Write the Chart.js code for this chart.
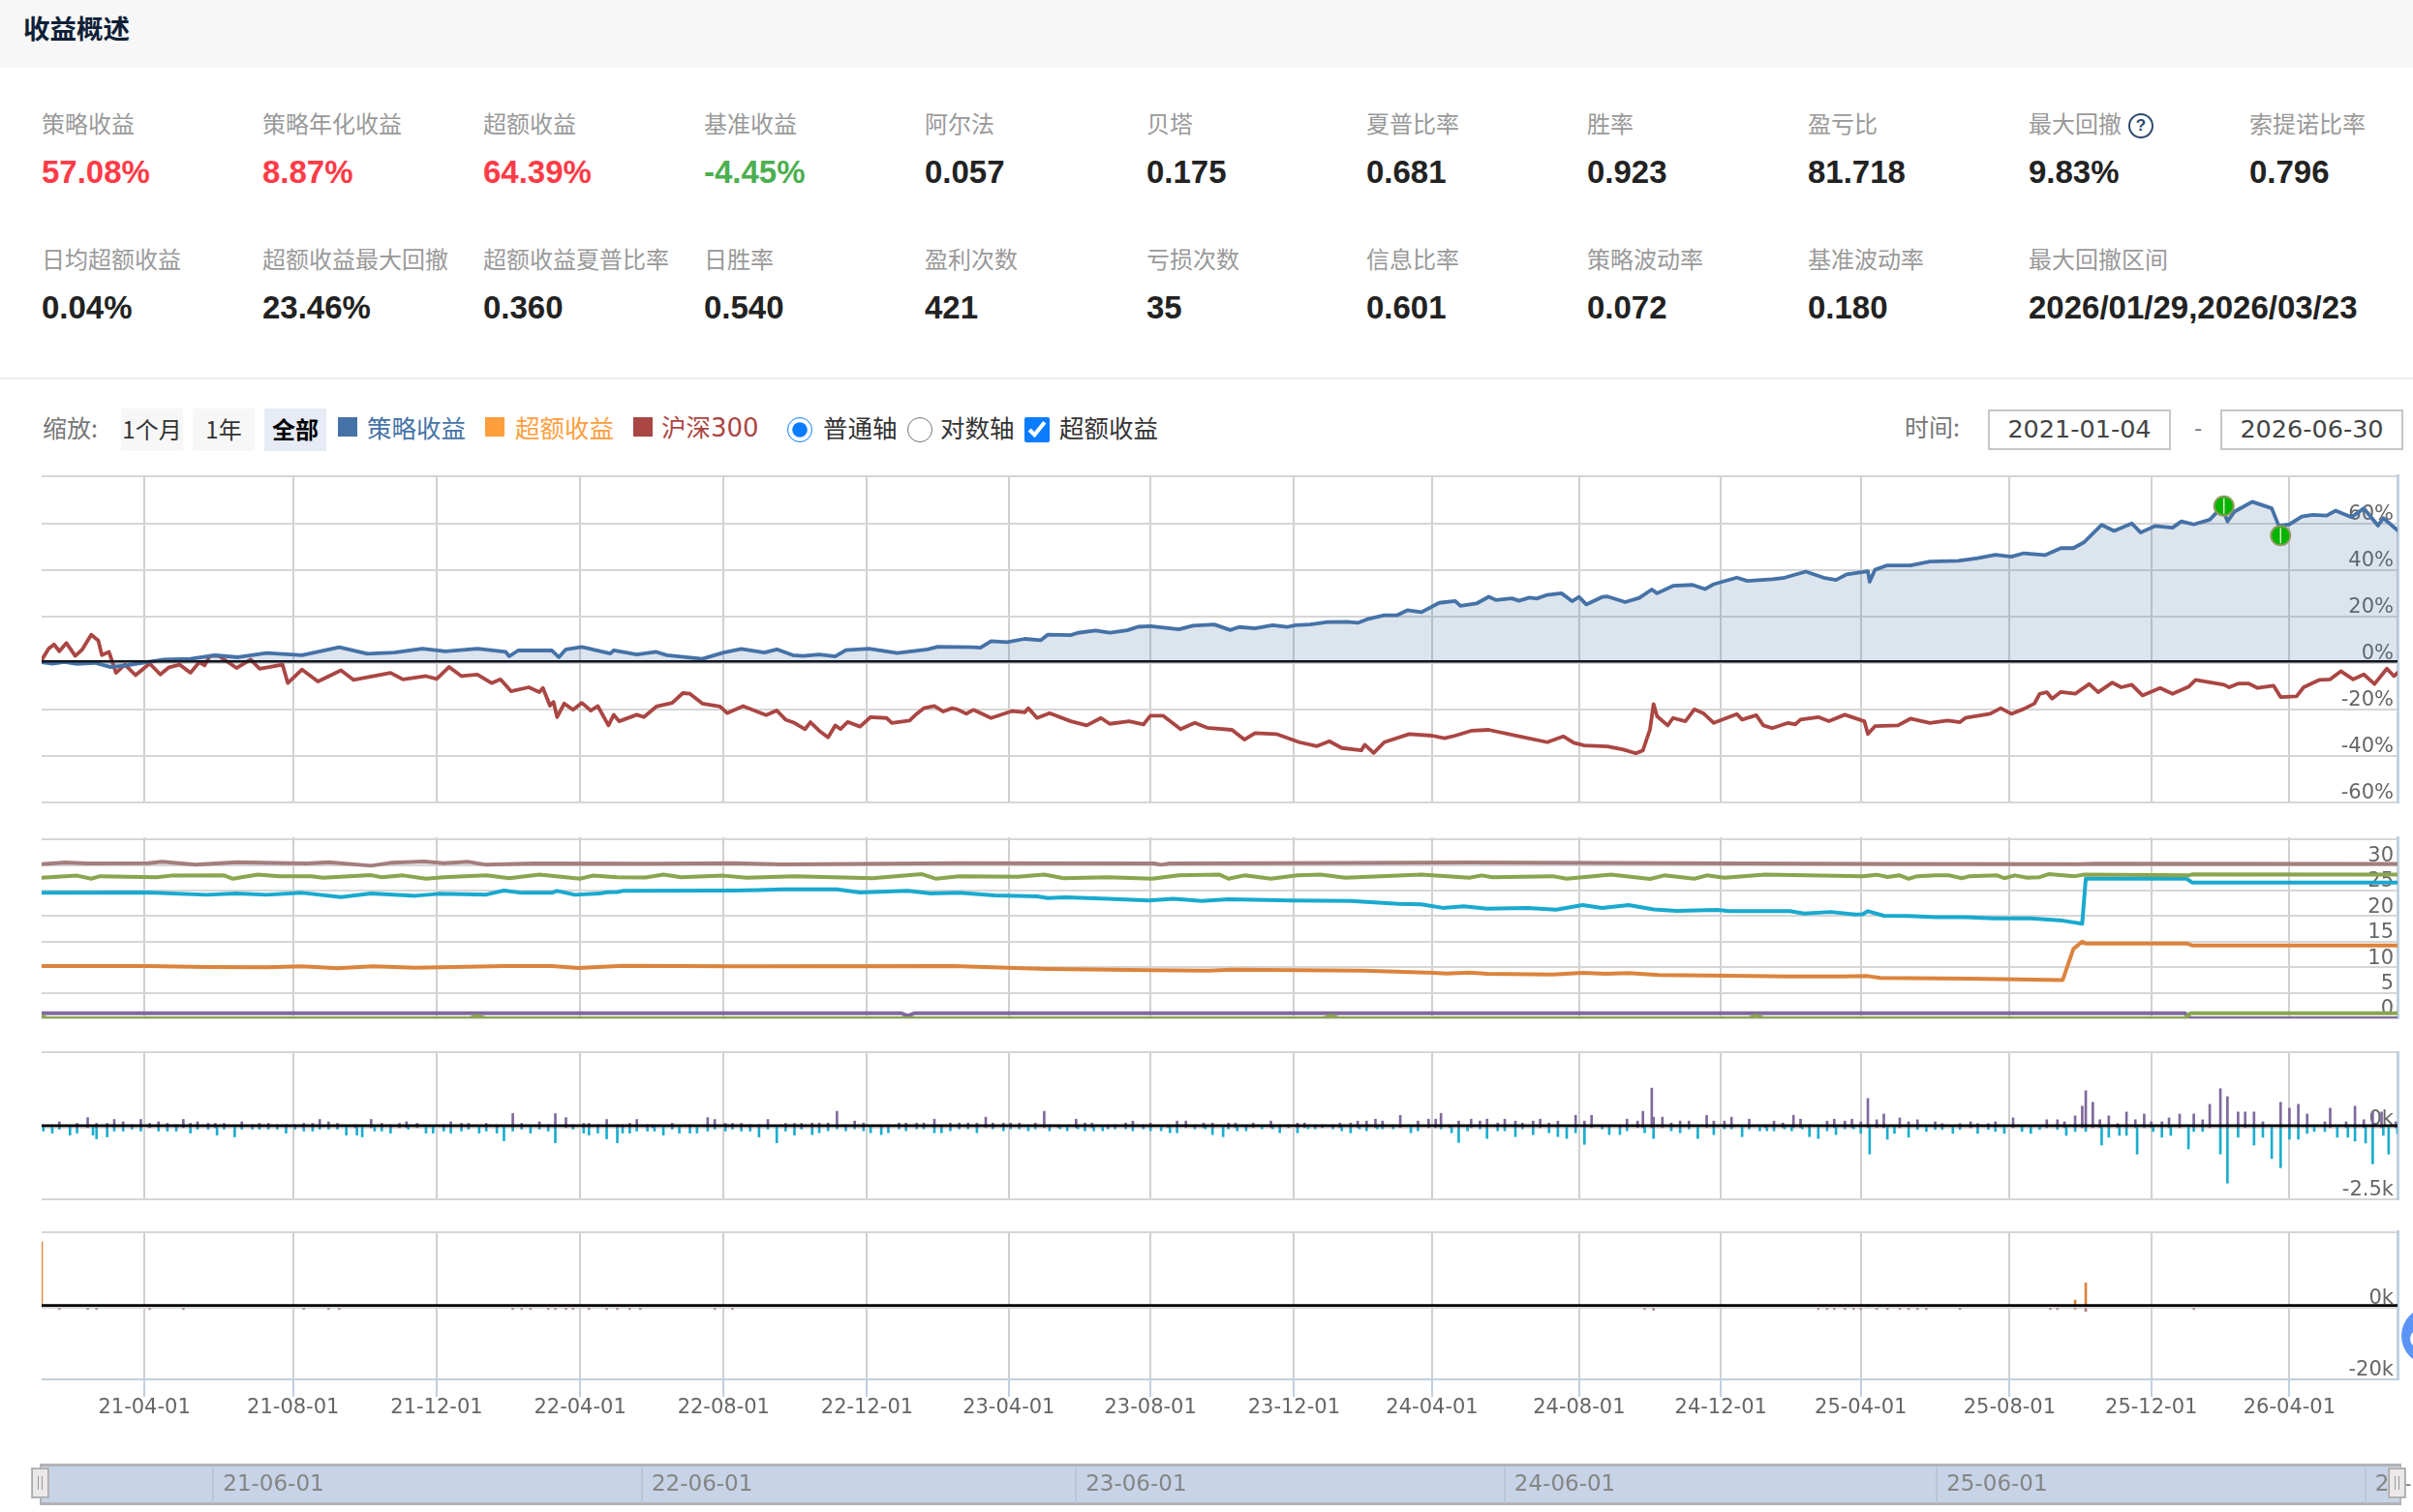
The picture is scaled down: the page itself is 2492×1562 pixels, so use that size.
<!DOCTYPE html>
<html lang="zh-CN">
<head>
<meta charset="utf-8">
<title>收益概述</title>
<script src="https://cdn.jsdelivr.net/npm/chart.js@4"></script>
<style>
html,body{margin:0;padding:0;background:#fff;width:2492px;height:1562px;overflow:hidden;font-family:"Noto Sans CJK SC",sans-serif}
.a{position:absolute;white-space:nowrap;line-height:1}
canvas{position:absolute;display:block}
.lab{font-size:24px;color:#999;transform:translateY(-50%)}
.val{font-family:"Liberation Sans",sans-serif;font-weight:bold;font-size:33px;color:#222;transform:translateY(-50%)}
.btn{top:422px;height:44px;background:#f7f7f7;font-size:24px;color:#333;display:flex;align-items:center;justify-content:center;padding-bottom:2px;box-sizing:border-box}
.sq{top:431px;width:20px;height:20px}
.leg{top:441px;font-size:25.5px;transform:translateY(-50%)}
.inp{top:423px;height:38px;width:185px;border:2px solid #c6c6c6;font-family:"DejaVu Sans",sans-serif;font-size:25.5px;color:#444;display:flex;align-items:center;justify-content:center}
.hd{top:1517px;width:15px;height:28px;background:#ebe8e8;border:1px solid #a8a8a8;outline:1px solid #bbb}
.hd i{position:absolute;top:7px;height:14px;width:1px;background:#999}
</style>
</head>
<body>
<div class="a" style="left:0;top:0;width:2492px;height:70px;background:#f7f7f7"></div>
<div class="a" style="left:24px;top:15px;font-size:27.5px;font-weight:700;color:#0e2036">收益概述</div>
<div class="a" style="left:0;top:390px;width:2492px;height:2px;background:#e9edf1"></div>
<div id="stats"></div>
<div class="a" style="left:2198px;top:117px;width:22px;height:22px;border:2px solid #2e4a6e;border-radius:50%;font:bold 17px 'Liberation Sans';color:#2e4a6e;display:flex;align-items:center;justify-content:center">?</div>

<div class="a" style="left:44px;top:441px;font-size:25px;color:#777;transform:translateY(-50%)">缩放:</div>
<div class="a btn" style="left:125px;width:64px">1个月</div>
<div class="a btn" style="left:199px;width:64px">1年</div>
<div class="a btn" style="left:273px;width:64px;background:#e6ebf5;color:#000;font-weight:700">全部</div>
<div class="a sq" style="left:349px;background:#4572A7"></div>
<div class="a leg" style="left:379px;color:#4572A7">策略收益</div>
<div class="a sq" style="left:501px;background:#FF9E3D"></div>
<div class="a leg" style="left:532px;color:#FF9E3D">超额收益</div>
<div class="a sq" style="left:654px;background:#AA4643"></div>
<div class="a leg" style="left:683px;color:#AA4643">沪深<span style="font-family:'DejaVu Sans';font-size:26px">300</span></div>
<input class="a" type="radio" name="ax" checked style="left:813px;top:431px;width:26px;height:26px;margin:0;accent-color:#0a7cff">
<div class="a leg" style="left:850px;color:#333">普通轴</div>
<input class="a" type="radio" name="ax" style="left:937px;top:431px;width:26px;height:26px;margin:0">
<div class="a leg" style="left:971px;color:#333">对数轴</div>
<input class="a" type="checkbox" checked style="left:1058px;top:431px;width:26px;height:26px;margin:0;accent-color:#0a7cff">
<div class="a leg" style="left:1094px;color:#333">超额收益</div>
<div class="a" style="left:1967px;top:440px;font-size:25px;color:#777;transform:translateY(-50%)">时间:</div>
<div class="a inp" style="left:2053px">2021-01-04</div>
<div class="a" style="left:2266px;top:441px;font-size:24px;color:#777;transform:translateY(-50%)">-</div>
<div class="a inp" style="left:2293px">2026-06-30</div>

<canvas id="main" style="left:33px;top:485px" width="2457" height="350"></canvas>
<canvas id="pos" style="left:33px;top:859px" width="2457" height="199"></canvas>
<canvas id="flow" style="left:33px;top:1081px" width="2457" height="164"></canvas>
<canvas id="cash" style="left:33px;top:1267px" width="2457" height="195"></canvas>

<div class="a" style="left:41px;top:1512px;width:2435px;height:37px;background:#c7d3e6;border:solid #b2b2b8;border-width:3px 2px 3px 2px"></div>
<canvas id="nav" style="left:33px;top:1510px" width="2457" height="46"></canvas>
<div class="a hd" style="left:33px"><i style="left:5px"></i><i style="left:9px"></i></div>
<div class="a hd" style="left:2467px"><i style="left:5px"></i><i style="left:9px"></i></div>
<div class="a" style="left:2480px;top:1350px;width:60px;height:60px;border-radius:50%;background:#5b94f7"></div>
<div class="a" style="left:2489px;top:1373px;width:20px;height:20px;border-radius:50%;background:#fff"></div>

<script>
const statLabels1=["策略收益","策略年化收益","超额收益","基准收益","阿尔法","贝塔","夏普比率","胜率","盈亏比","最大回撤","索提诺比率"];
const statValues1=["57.08%","8.87%","64.39%","-4.45%","0.057","0.175","0.681","0.923","81.718","9.83%","0.796"];
const statColors1=["#ff3b47","#ff3b47","#ff3b47","#4caf50"];
const statLabels2=["日均超额收益","超额收益最大回撤","超额收益夏普比率","日胜率","盈利次数","亏损次数","信息比率","策略波动率","基准波动率","最大回撤区间"];
const statValues2=["0.04%","23.46%","0.360","0.540","421","35","0.601","0.072","0.180","2026/01/29,2026/03/23"];
const statColumns=[43,271,499,727,955,1184,1411,1639,1867,2095,2323];

const xTickDays=[58,142,223,304,385,466,546,626,707,785,868,948,1027,1111,1191,1269];
const xTickLabels=["21-04-01","21-08-01","21-12-01","22-04-01","22-08-01","22-12-01","23-04-01","23-08-01","23-12-01","24-04-01","24-08-01","24-12-01","25-04-01","25-08-01","25-12-01","26-04-01"];
const navTickDays=[97,339,584,826,1070,1312];
const navTickLabels=["21-06-01","22-06-01","23-06-01","24-06-01","25-06-01","26-06-01"];

const strategyReturn=[[0,.3],[6,-.4],[13,.4],[20,-.5],[30,0],[39,-1.8],[49,-1],[59,.3],[69,1.4],[84,1.7],[98,3.3],[111,2.4],[127,4.2],[147,3.3],[168,6.7],[184,3.9],[199,4.4],[215,6.1],[228,4.9],[246,6.1],[262,4.7],[264,2.8],[269,5.3],[288,5.4],[292,2.4],[296,5.8],[305,6.8],[321,4],[323,5.4],[336,3.6],[347,4.7],[353,3.3],[373,1.7],[385,4.4],[395,6],[408,4.4],[415,5.8],[424,3.3],
[430,3],[439,3.6],[448,2.8],[454,5.5],[467,6.1],[483,4.2],[500,5.8],[506,6.9],[526,6.7],[530,6.5],[536,9.3],[545,8.9],[555,10.3],[564,9.7],[568,12.1],[581,11.9],[585,12.9],[595,13.9],[603,13],[613,14],[619,15.5],[626,15.8],[642,14.4],[650,16],[662,16.5],[671,14.1],[676,15.4],[685,14.8],[695,16.2],[703,15.4],[708,16.2],[716,16.5],[726,17.5],[737,17.6],[743,17.2],[749,18.9],[758,20.4],[765,20.4],[771,22.6],[779,21.8],[789,25.8],[798,26.6],[801,24.5],[810,25.5],[817,28.4],[821,27],[830,27.7],[834,26.7],[840,28],[844,27.6],[850,29.2],[858,29.9],[864,26.5],[868,28.3],[872,25.1],[881,28.3],[884,28.5],
[894,26.1],[902,27.9],[909,31.5],[912,29.9],[921,33.1],[932,33.5],[939,31.7],[944,33.8],[957,36.6],[963,35.2],[977,35.9],[984,36.6],[996,39.2],[1006,36.6],[1013,35.6],[1019,38],[1031,39.4],[1032,34.9],[1035,40],[1042,41.9],[1055,41.9],[1066,43.5],[1082,43.8],[1093,45],[1103,46.4],[1112,45.6],[1119,47.1],[1131,46.3],[1140,49.3],[1147,49.3],[1153,51.8],[1163,59.3],[1170,56.7],[1180,59.9],[1185,56],[1193,58.8],[1203,58.1],[1208,60.8],[1215,59.5],[1224,61.5],[1231,67.1],[1234,60.8],[1238,65],[1248,69.2],[1259,66.4],[1263,58.8],[1269,59.5],[1276,62.9],[1282,63.6],[1290,63.3],[1295,65.4],[1304,62.6],[1311,66.4],[1319,59],[1322,62.2],[1330,57]];

const benchmarkReturn=[[0,1.2],[4,6.1],[7,7.9],[10,5],[14,8.5],[19,3],[23,5.8],[28,12.1],[32,9.6],[34,3.3],[38,4.7],[42,-4.3],[47,-.8],[53,-5.3],[61,-.3],[67,-5],[72,-1.9],[78,-.8],[84,-4.3],[89,.3],[92,-1.1],[95,3],[100,3],[110,-2.2],[118,1.4],[123,-2.5],[136,-.8],[139,-8.7],[147,-2.9],[156,-8],[169,-3.2],[176,-7.3],[197,-4.3],[204,-7.1],[217,-5.7],[223,-6.9],[230,-1.8],[237,-5.7],[246,-5],[254,-8.7],[259,-7.1],[265,-12.2],[275,-10.5],[281,-12.6],[283,-10.8],[287,-18.4],[289,-16.8],[291,-23.3],[295,-17.5],[300,-20.2],[305,-17.2],[310,-20.5],[314,-18.6],[320,-26.9],[323,-22.3],[326,-25.1],[336,-22.3],[340,-23.3],[347,-18.8],[356,-17.2],[362,-13],[366,-13.3],[373,-17.5],[383,-18.8],[387,-21.6],[396,-18.6],[409,-22.5],[415,-20.5],[420,-24.4],[425,-25.8],[431,-28.5],
[434,-25.5],[439,-29.2],[444,-32],[448,-26.9],[451,-28.5],[455,-25.4],[462,-27.4],[468,-23.3],[477,-23.7],[480,-25.8],[490,-24.8],[494,-21.9],[498,-19.5],[504,-18.6],[509,-20.9],[514,-19.5],[517,-20],[522,-21.9],[526,-20.2],[536,-23.7],[548,-20.7],[555,-21.3],[557,-19.5],[562,-23.7],[569,-21.6],[581,-25.1],[590,-26.9],[598,-23.7],[603,-26.2],[614,-25.1],[622,-26.5],[626,-22.7],[633,-22.7],[643,-28.5],[651,-25.8],[658,-27.9],[672,-28.8],[679,-33],[685,-30.2],[697,-30.6],[710,-34.1],[720,-35.8],[727,-33.7],[734,-36.6],[745,-37.6],[747,-35.2],[752,-38.7],[758,-34.1],[772,-30.6],[785,-31.3],[792,-32.4],[798,-31.3],[807,-29.2],[817,-28.8],[834,-31.6],[850,-34.1],[859,-31.6],[865,-34.4],[871,-35.5],[884,-35.9],
[893,-37.3],[900,-38.9],[904,-37.6],[908,-28.6],[910,-17.7],[912,-23],[918,-26.9],[921,-23.7],[928,-25.1],[933,-20],[938,-21.6],[944,-25.8],[957,-22],[960,-24.4],[968,-22.5],[972,-26.9],[977,-28.1],[986,-25.8],[990,-26.5],[993,-24.4],[1003,-23.3],[1009,-25.1],[1018,-22.3],[1029,-25.1],[1031,-30.6],[1035,-27.2],[1048,-26.9],[1055,-24],[1066,-25.8],[1076,-24.8],[1083,-25.5],[1086,-23.7],[1100,-21.9],[1106,-19.5],[1112,-21.9],[1119,-19.8],[1125,-17.5],[1128,-13.3],[1132,-12.6],[1135,-15.4],[1140,-12.5],[1148,-13.3],[1156,-9.1],[1161,-12.6],[1169,-8.5],[1174,-10.5],[1180,-9.4],[1186,-14],[1196,-10.8],[1203,-13.3],[1212,-10.3],[1216,-7.3],[1232,-9.4],[1235,-10.5],[1240,-8.9],[1246,-8.9],[1251,-10.8],[1260,-9.8],[1264,-14.7],[1273,-14.4],[1277,-10.5],[1286,-7.3],[1292,-7.1],[1298,-3.6],[1305,-7.1],[1311,-5],[1317,-9.1],[1324,-2.5],[1328,-5.7],[1330,-4.3]];

const drawdownFlags=[[1232,67.4],[1264,54.7]];
const zeroLineMain=[[0,.6],[1330,.6]];

const posBrown=[[0,30.16],[13,30.47],[26,30.28],[60,30.35],[68,30.6],[87,30.03],[110,30.54],[140,30.35],[150,30.28],[162,30.54],[186,29.84],[197,30.41],[216,30.66],[227,30.35],[241,30.6],[251,30.03],[278,30.28],[345,30.22],[391,30.35],[418,30.09],[515,30.35],[628,30.28],[632,30.03],[637,30.28],[692,30.35],[806,30.47],[1040,30.2],[1150,30.15],[1160,30.25],[1330,30.2]];
const posGreen=[[0,27.5],[20,27.9],[28,27.3],[33,27.8],[65,27.6],[73,27.9],[103,27.95],[108,27.3],[122,28.1],[134,27.8],[152,27.8],[159,27.5],[186,28],[192,27.6],[204,27.95],[217,27.3],[227,27.6],[251,27.95],[264,27.4],[281,28.1],[304,27.3],[311,27.9],[325,27.6],[341,27.55],[351,28.1],[361,27.6],[385,27.9],[398,27.5],[425,27.8],[469,27.4],[497,28.2],[505,27.3],[518,27.8],[551,27.7],[566,28.1],[577,27.4],[602,27.6],[627,27.3],[642,27.95],[665,28.1],[670,27.3],[679,27.95],[694,27.3],[709,27.95],[722,28.1],[736,27.5],[779,28.1],[806,27.5],[813,27.95],[819,27.6],[853,27.8],[861,27.3],[886,28.1],[908,27.25],[916,27.95],[933,27.3],[940,27.95],[950,27.5],[973,28.1],[1028,27.76],[1036,28.08],[1042,27.63],[1049,27.95],[1054,27.3],[1059,27.8],[1069,27.95],[1077,27.95],[1084,27.4],[1088,27.76],[1104,27.95],[1108,27.4],[1114,27.95],[1121,27.5],[1128,27.6],[1133,28.2],[1148,27.8],[1153,28.1],[1212,27.95],[1214,28.14],[1330,28.1]];
const posTeal=[[0,24.54],[60,24.6],[93,24.16],[110,24.4],[127,24.16],[147,24.54],[169,23.7],[186,24.4],[211,23.97],[224,24.35],[251,24.2],[261,24.98],[271,24.54],[288,24.54],[291,24.92],[301,24.16],[315,24.4],[319,24.67],[325,24.7],[328,24.92],[391,24.98],[405,25.1],[418,25.24],[449,25.24],[462,24.6],[489,24.92],[502,24.4],[518,24.54],[538,24.04],[562,23.85],[568,23.53],[578,23.66],[602,23.4],[625,23.03],[639,23.4],[655,22.97],[670,23.28],[705,23.03],[739,22.97],[766,22.4],[779,22.3],[791,21.6],[803,21.9],[816,21.45],[839,21.6],[855,21.26],[870,22.15],[881,21.6],[896,22.15],[910,21.3],[923,21],[946,21.2],[953,20.95],[987,20.95],[995,20.5],[1010,20.8],[1024,20.3],[1028,20.35],[1031,20.95],[1040,20.06],[1054,20],[1069,19.8],[1086,19.8],[1102,19.56],[1123,19.56],[1141,19.1],[1152,18.5],[1154,27.3],[1211,27.3],[1214,26.56],[1330,26.56]];
const posOrange=[[0,10.22],[60,10.22],[93,10.03],[127,9.97],[147,10.16],[167,9.78],[187,10.16],[211,9.9],[261,10.22],[288,10.22],[303,9.84],[328,10.28],[391,10.16],[515,10.22],[545,9.9],[568,9.65],[625,9.4],[659,9.34],[672,9.53],[746,9.34],[786,8.9],[793,8.77],[806,8.96],[816,8.7],[853,8.58],[870,8.9],[883,8.7],[896,8.83],[913,8.45],[953,8.33],[987,8.2],[1016,8.2],[1031,8.26],[1038,7.89],[1088,7.76],[1141,7.5],[1147,13.56],[1152,15],[1154,14.64],[1211,14.64],[1214,14.26],[1330,14.26]];
const posPurple=[[0,1],[485,1],[489,.5],[493,1],[1210,1],[1213,0],[1330,0]];
const posLowGreen=[[0,.4],[3,0],[242,0],[246,.5],[250,0],[724,0],[728,.5],[732,0],[964,0],[968,.5],[972,0],[1210,0],[1213,1],[1330,1]];

const flowBuy=[[10,135],[20,80],[26,280],[31,80],[37,80],[41,215],[46,135],[51,30],[56,215],[61,80],[66,135],[71,80],[76,30],[80,215],[84,80],[88,135],[94,80],[98,80],[103,80],[113,135],[119,30],[123,80],[128,80],[133,30],[138,30],[143,30],[148,80],[153,80],[157,215],[162,135],[167,80],[177,30],[186,215],[192,80],[197,30],[202,80],[206,135],[212,80],[227,30],[231,135],[237,80],[241,80],[251,80],[257,30],[266,420],[271,80],[281,135],[286,30],[290,420],[296,280],[300,30],[306,80],[309,80],[314,30],[319,215],[325,30],[328,30],[332,80],[336,215],[342,30],[345,30],[356,80],[366,30],[376,280],[380,215],[386,80],[390,80],[395,80],[400,30],[405,30],[410,215],[420,80],[425,80],[429,80],
[435,90],[439,90],[444,90],[449,500],[454,25],[459,160],[464,90],[474,25],[478,25],[484,90],[488,90],[494,90],[498,90],[504,225],[508,25],[513,90],[518,90],[523,90],[528,90],[533,295],[537,90],[543,90],[547,90],[552,90],[561,90],[566,500],[569,25],[574,25],[584,225],[589,90],[593,90],[602,25],[606,25],[612,90],[616,160],[622,25],[626,90],[636,25],[641,160],[646,160],[651,25],[656,90],[661,90],[670,90],[674,90],[680,25],[684,90],[694,160],[699,25],[704,25],[709,90],[713,90],[719,25],[723,25],[729,25],[733,90],[739,90],[743,160],[748,160],[753,225],
[757,160],[763,25],[767,360],[777,160],[783,225],[787,225],[790,430],[795,25],[800,160],[807,225],[812,160],[816,225],[822,90],[826,225],[832,160],[836,90],[842,160],[846,225],[851,90],[856,160],[866,360],[871,160],[875,360],[881,25],[885,25],[891,25],[895,225],[901,160],[904,500],[909,1310],[910,295],[915,295],[920,90],[925,160],[930,160],[940,360],[944,160],[950,160],[954,295],[964,225],[973,25],[978,160],[983,90],[989,360],[993,225],[998,25],[1008,160],[1012,225],[1018,160],[1022,225],
[1027,135],[1031,950],[1036,205],[1040,405],[1049,270],[1054,135],[1059,205],[1069,135],[1073,70],[1083,70],[1089,135],[1093,70],[1099,70],[1103,135],[1113,270],[1132,205],[1138,205],[1142,135],[1148,340],[1152,680],[1154,1220],[1158,815],[1162,205],[1167,340],[1172,70],[1177,475],[1182,205],[1187,405],[1191,135],[1197,135],[1201,270],[1207,405],[1215,405],[1220,205],[1224,745],[1230,1290],[1234,1015],[1240,475],[1244,475],[1249,475],[1254,135],[1264,815],[1269,610],[1274,745],[1279,405],[1289,135],[1292,610],[1301,135],[1306,680],[1311,205],[1316,475],[1321,475],[1329,135]];
const flowSell=[[1,-190],[6,-260],[10,-125],[16,-330],[20,-260],[26,-60],[29,-330],[31,-460],[37,-395],[41,-190],[46,-190],[51,-125],[56,-190],[61,-60],[66,-190],[71,-190],[76,-190],[84,-260],[88,-125],[94,-125],[99,-330],[103,-125],[109,-395],[113,-125],[119,-125],[123,-125],[128,-125],[133,-125],[138,-260],[143,-125],[148,-190],[153,-190],[157,-125],[162,-125],[167,-125],[172,-330],[178,-330],[181,-395],[188,-190],[192,-190],[197,-260],[202,-60],[207,-125],[212,-60],[217,-260],[221,-260],[227,-190],[231,-260],[237,-190],[241,-125],[247,-260],[251,-190],[257,-260],[261,-530],[266,-190],[271,-125],[276,-260],[281,-125],[286,-190],[290,-600],[296,-60],[300,-125],[306,-260],[309,-330],[314,-260],[319,-460],[325,-600],[328,-260],[332,-260],[336,-190],[342,-190],[346,-190],[351,-330],[356,-125],[360,-260],[366,-260],[370,-260],[376,-190],[380,-125],[386,-190],[390,-125],[395,-190],[400,-190],[405,-395],[410,-125],[415,-600],[420,-190],[425,-330],[429,-125],
[435,-315],[439,-250],[444,-180],[449,-115],[454,-180],[459,-115],[464,-180],[468,-250],[474,-315],[478,-250],[484,-115],[488,-180],[494,-115],[498,-115],[504,-250],[508,-250],[513,-180],[518,-115],[523,-115],[528,-250],[533,-45],[537,-115],[543,-180],[547,-115],[552,-115],[557,-180],[561,-115],[569,-180],[575,-115],[579,-180],[585,-115],[589,-180],[594,-180],[599,-180],[602,-115],[606,-115],[612,-115],[616,-180],[622,-115],[626,-180],[632,-180],[637,-250],[641,-250],[651,-115],[657,-115],[661,-315],[667,-385],[670,-115],[675,-180],[680,-180],[689,-115],[695,-115],[699,-250],[709,-250],[715,-115],[719,-115],[729,-115],[734,-180],[739,-250],[744,-115],[748,-180],
[754,-115],[757,-115],[763,-115],[773,-250],[777,-180],[787,-65],[790,-115],[796,-250],[800,-590],[805,-180],[812,-115],[816,-450],[822,-180],[826,-180],[832,-385],[836,-115],[842,-315],[851,-250],[856,-385],[861,-450],[866,-250],[871,-655],[881,-115],[885,-315],[891,-315],[895,-180],[905,-250],[910,-450],[920,-180],[925,-250],[930,-115],[935,-450],[944,-315],[950,-115],[954,-115],[960,-385],[964,-115],[970,-180],[974,-180],[978,-180],[984,-115],[988,-180],[994,-115],[998,-385],[1003,-450],[1008,-180],[1013,-315],[1018,-115],[1023,-115],
[1027,-270],[1032,-995],[1042,-475],[1046,-270],[1054,-405],[1059,-135],[1064,-205],[1069,-135],[1073,-135],[1079,-270],[1083,-135],[1089,-70],[1093,-270],[1099,-135],[1103,-205],[1108,-270],[1118,-205],[1123,-270],[1128,-135],[1132,-70],[1138,-135],[1143,-340],[1148,-205],[1154,-205],[1163,-680],[1167,-405],[1173,-340],[1177,-340],[1183,-995],[1192,-205],[1197,-405],[1202,-340],[1212,-815],[1215,-205],[1220,-205],[1230,-995],[1234,-2010],[1240,-405],[1249,-680],[1254,-405],[1259,-1150],[1264,-1470],[1269,-475],[1274,-475],[1279,-270],[1283,-205],[1289,-205],[1296,-405],[1302,-405],[1306,-540],[1312,-610],[1316,-1335],[1322,-340],[1325,-995],[1330,-270]];
const zeroLineFlow=[[0,0],[1330,0]];
const flowTickValues=[-2576,-78,2566];
const flowTickLabels=["-2.5k","0k",""];

const cashIn=[[0,18400],[1031,900],[1148,2100],[1154,6900]];
const cashOut=[[10,-500],[26,-500],[31,-500],[61,-500],[80,-500],[148,-500],[162,-500],[168,-500],[266,-500],[271,-500],[276,-500],[286,-500],[290,-500],[296,-500],[300,-500],[309,-500],[319,-500],[325,-500],[332,-500],[338,-500],[380,-500],[390,-500],[905,-500],[910,-700],[1003,-500],[1008,-500],[1012,-500],[1018,-500],[1023,-500],[1027,-500],[1036,-500],[1042,-500],[1049,-500],[1054,-500],[1059,-500],[1064,-500],[1083,-500],[1134,-500],[1138,-500],[1148,-400],[1154,-1000],[1215,-500]];
const zeroLineCash=[[0,600],[1330,600]];

const statsEl=document.getElementById('stats');
function addStat(label,value,color,i,yL,yV){
  statsEl.insertAdjacentHTML('beforeend',
   `<div class="a lab" style="left:${statColumns[i]}px;top:${yL}px">${label}</div>`+
   `<div class="a val" style="left:${statColumns[i]}px;top:${yV}px;color:${color||'#222'}">${value}</div>`);
}
statLabels1.forEach((l,i)=>addStat(l,statValues1[i],statColors1[i],i,127,177));
statLabels2.forEach((l,i)=>addStat(l,statValues2[i],null,i,267,317));

const pts=a=>a.map(p=>({x:p[0],y:p[1]}));
const GRID='#d6d6d6', VGRID='#d0d0d0', AXIS='#c0d0e0';
const tickFont={family:'"DejaVu Sans",sans-serif',size:21};
const noPad=s=>{s.paddingLeft=s.paddingRight=s.paddingTop=s.paddingBottom=0;};

function line(data,color,width,extra){
  return Object.assign({type:'line',data:pts(data),borderColor:color,borderWidth:width,pointRadius:0,tension:0,
    borderJoinStyle:'round',borderCapStyle:'round',fill:false},extra||{});
}
function bars(data,color,extra){
  return Object.assign({type:'bar',data:pts(data),backgroundColor:color,barThickness:2,grouped:false},extra||{});
}
function pane(id,pad,datasets,yMin,yMax,yTicks,yLabel,opts){
  opts=opts||{};
  return new Chart(document.getElementById(id),{
    data:{datasets},
    options:{
      responsive:false,animation:false,devicePixelRatio:1,
      layout:{autoPadding:false,padding:{left:10,right:14,top:pad.top,bottom:pad.bottom}},
      plugins:{legend:{display:false},tooltip:{enabled:false}},
      events:[],
      scales:{
        x:{type:'linear',min:0,max:1330,offset:false,
          afterBuildTicks(s){s.ticks=xTickDays.map(value=>({value}));},
          afterFit(s){s.height=opts.xHeight||0;noPad(s);},
          border:{display:false},
          grid:{offset:false,color:VGRID,lineWidth:2,drawTicks:!!opts.xHeight,tickLength:18,tickColor:AXIS,tickWidth:2},
          ticks:{display:!!opts.xHeight,autoSkip:false,maxRotation:0,minRotation:0,padding:-1,color:'#666',font:tickFont,
            callback:(v,i)=>xTickLabels[i]}
        },
        y:{type:'linear',position:'right',min:yMin,max:yMax,
          afterBuildTicks(s){s.ticks=yTicks.map(value=>({value}));},
          afterFit(s){s.width=0;noPad(s);},
          border:{display:true,color:AXIS,width:3},
          grid:{color:c=>(opts.axisBottom&&c.tick&&c.tick.value===yMin)?AXIS:GRID,lineWidth:2,drawTicks:false},
          ticks:{mirror:true,padding:-4,labelOffset:-9,color:'#666',font:tickFont,autoSkip:false,callback:yLabel}
        }
      }
    }
  });
}

pane('main',{top:6,bottom:6},[
  line(zeroLineMain,'#10151f',2.6,{order:0,borderCapStyle:'butt'}),
  {type:'line',data:pts(drawdownFlags),showLine:false,pointStyle:'line',pointRotation:90,pointRadius:8,pointBorderColor:'#dfe8c8',pointBorderWidth:1.5,order:1},
  {type:'line',data:pts(drawdownFlags),showLine:false,pointStyle:'circle',pointRadius:10,pointBackgroundColor:'#00b400',pointBorderColor:'#8c9c60',pointBorderWidth:2,order:2},
  line(strategyReturn,'#4572A7',3.8,{order:3,fill:{target:{value:0}},backgroundColor:'rgba(69,114,167,0.19)'}),
  line(benchmarkReturn,'#AA4643',3.8,{order:4})
],-60,80.6,[-60,-40,-20,0,20,40,60,80],v=>v===80?'':v+'%');

pane('pos',{top:6,bottom:6},[
  line(posBrown,'#A47D7C',4,{order:6}),
  line(posTeal,'#1AA9CF',4,{order:5}),
  line(posGreen,'#89A54E',4,{order:4}),
  line(posOrange,'#DB843D',4,{order:3}),
  line(posPurple,'#80699B',4,{order:2,clip:0}),
  line(posLowGreen,'#89A54E',4,{order:1,clip:0})
],0,35.4,[0,5,10,15,20,25,30,35],v=>v===35?'':String(v));

pane('flow',{top:6,bottom:6},[
  line(zeroLineFlow,'#000',2.6,{order:0,borderCapStyle:'butt'}),
  bars(flowBuy,'#80699B',{order:1,base:-70}),
  bars(flowSell,'#1AADCE',{order:2})
],-2576,2566,flowTickValues,(v,i)=>flowTickLabels[i]);

pane('cash',{top:5.7,bottom:0},[
  line(zeroLineCash,'#000',2.6,{order:0,borderCapStyle:'butt'}),
  bars(cashIn,'#DB843D',{order:2}),
  bars(cashOut,'#A47D7C',{order:1})
],-20000,21100,[-20000,0,21100],v=>v===0?'0k':(v<0?'-20k':''),{xHeight:37,axisBottom:true});

new Chart(document.getElementById('nav'),{
  type:'line',
  data:{datasets:[]},
  options:{
    responsive:false,animation:false,devicePixelRatio:1,events:[],
    layout:{autoPadding:false,padding:{left:10,right:14,top:6,bottom:3}},
    plugins:{legend:{display:false},tooltip:{enabled:false}},
    scales:{
      x:{type:'linear',min:0,max:1330,
        afterBuildTicks(s){s.ticks=navTickDays.map(value=>({value}));},
        afterFit(s){s.height=0;noPad(s);},
        border:{display:false},
        grid:{color:'#b9c6da',lineWidth:2,drawTicks:false},
        ticks:{mirror:true,autoSkip:false,maxRotation:0,minRotation:0,padding:5,labelOffset:62,color:'#858585',
          font:{family:'"DejaVu Sans",sans-serif',size:23},callback:(v,i)=>navTickLabels[i]}
      },
      y:{display:false,min:0,max:1}
    }
  }
});
</script>
</body>
</html>
